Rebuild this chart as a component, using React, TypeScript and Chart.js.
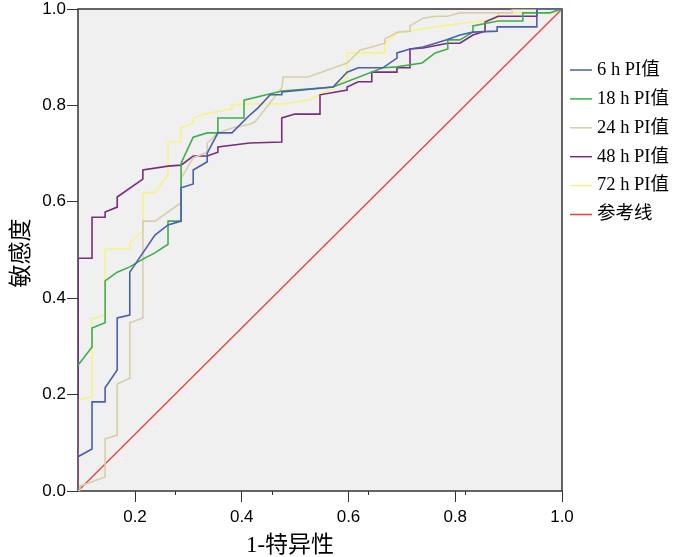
import { useEffect, useRef } from "react";
import { Chart, registerables } from "chart.js";

Chart.register(...registerables);

const seriesNames = ["6 h PI值", "18 h PI值", "24 h PI值", "48 h PI值", "72 h PI值", "参考线"];
const seriesColors = ["#4a5fae", "#3daf4c", "#d6cfa8", "#7a2c7e", "#f6f28a", "#e8403c"];
const xTickValues = [0.2, 0.4, 0.6, 0.8, 1.0];
const xMinorTickValues = [0.2, 0.4, 0.6, 0.8];
const yTickValues = [0, 0.2, 0.4, 0.6, 0.8, 1.0];

const pi6h: [number, number][] = [
  [0, 0.071], [0.029, 0.087], [0.029, 0.185], [0.056, 0.185], [0.056, 0.214], [0.081, 0.251],
  [0.081, 0.359], [0.107, 0.365], [0.107, 0.454], [0.134, 0.494], [0.159, 0.531], [0.186, 0.552],
  [0.213, 0.56], [0.213, 0.629], [0.238, 0.637], [0.238, 0.666], [0.267, 0.683], [0.267, 0.701],
  [0.289, 0.743], [0.318, 0.743], [0.355, 0.78], [0.372, 0.795], [0.397, 0.822], [0.421, 0.822],
  [0.421, 0.828], [0.527, 0.838], [0.556, 0.869], [0.579, 0.878], [0.63, 0.878], [0.659, 0.898],
  [0.659, 0.909], [0.686, 0.917], [0.713, 0.921], [0.762, 0.936], [0.789, 0.946], [0.816, 0.952],
  [0.866, 0.954], [0.866, 0.963], [0.948, 0.963], [0.948, 1], [1, 1],
];
const pi18h: [number, number][] = [
  [0, 0.261], [0.029, 0.299], [0.029, 0.338], [0.056, 0.349], [0.056, 0.436], [0.081, 0.454],
  [0.107, 0.465], [0.134, 0.481], [0.159, 0.494], [0.186, 0.512], [0.186, 0.56], [0.213, 0.56],
  [0.213, 0.68], [0.238, 0.734], [0.267, 0.743], [0.289, 0.743], [0.289, 0.774], [0.343, 0.774],
  [0.343, 0.811], [0.421, 0.83], [0.527, 0.838], [0.63, 0.878], [0.659, 0.88], [0.711, 0.888],
  [0.738, 0.909], [0.764, 0.917], [0.764, 0.936], [0.789, 0.936], [0.816, 0.952], [0.816, 0.965],
  [0.868, 0.975], [0.919, 0.975], [0.919, 0.992], [0.975, 0.992], [1, 1],
];
const pi24h: [number, number][] = [
  [0, 0], [0.004, 0.002], [0.004, 0.01], [0.029, 0.019], [0.056, 0.029], [0.056, 0.108],
  [0.081, 0.116], [0.081, 0.222], [0.107, 0.234], [0.107, 0.349], [0.134, 0.359], [0.134, 0.56],
  [0.159, 0.56], [0.213, 0.598], [0.213, 0.649], [0.238, 0.691], [0.267, 0.703], [0.267, 0.722],
  [0.289, 0.743], [0.318, 0.753], [0.355, 0.761], [0.366, 0.766], [0.421, 0.836], [0.424, 0.859],
  [0.475, 0.859], [0.556, 0.888], [0.583, 0.915], [0.607, 0.921], [0.634, 0.929], [0.634, 0.938],
  [0.661, 0.952], [0.686, 0.954], [0.686, 0.965], [0.713, 0.981], [0.738, 0.985], [0.764, 0.985],
  [0.789, 0.992], [0.897, 0.992], [0.897, 1], [1, 1],
];
const pi48h: [number, number][] = [
  [0, 0], [0, 0.483], [0.029, 0.483], [0.029, 0.568], [0.056, 0.568], [0.056, 0.579],
  [0.081, 0.589], [0.081, 0.61], [0.134, 0.647], [0.134, 0.666], [0.186, 0.674], [0.213, 0.676],
  [0.238, 0.695], [0.267, 0.695], [0.289, 0.703], [0.289, 0.714], [0.355, 0.722], [0.421, 0.724],
  [0.421, 0.774], [0.448, 0.782], [0.5, 0.782], [0.5, 0.822], [0.556, 0.832], [0.556, 0.838],
  [0.579, 0.849], [0.607, 0.849], [0.607, 0.869], [0.659, 0.869], [0.659, 0.878], [0.686, 0.878],
  [0.686, 0.917], [0.713, 0.919], [0.764, 0.929], [0.789, 0.929], [0.816, 0.946], [0.841, 0.954],
  [0.841, 0.973], [0.868, 0.985], [0.948, 0.985], [0.948, 1], [1, 1],
];
const pi72h: [number, number][] = [
  [0, 0], [0, 0.189], [0.029, 0.195], [0.029, 0.357], [0.056, 0.365], [0.056, 0.502],
  [0.107, 0.502], [0.107, 0.515], [0.134, 0.539], [0.134, 0.618], [0.159, 0.62], [0.186, 0.656],
  [0.186, 0.724], [0.213, 0.724], [0.213, 0.753], [0.238, 0.763], [0.238, 0.774], [0.262, 0.782],
  [0.318, 0.793], [0.318, 0.801], [0.355, 0.803], [0.421, 0.803], [0.475, 0.811], [0.5, 0.822],
  [0.527, 0.838], [0.556, 0.857], [0.556, 0.909], [0.634, 0.909], [0.634, 0.929], [0.659, 0.95],
  [0.738, 0.963], [0.816, 0.973], [0.868, 0.981], [0.868, 0.992], [0.975, 0.992], [1, 1],
];
const referenceLine: [number, number][] = [[0, 0], [1, 1]];

const allSeries = [pi6h, pi18h, pi24h, pi48h, pi72h, referenceLine];

const xTitle = "1-特异性";
const yTitle = "敏感度";

export default function App() {
  const canvasRef = useRef<HTMLCanvasElement | null>(null);

  useEffect(() => {
    const canvas = canvasRef.current;
    if (!canvas) return;

    const decor = {
      id: "decor",
      beforeDraw(chart: any) {
        const { ctx, chartArea } = chart;
        ctx.save();
        ctx.fillStyle = "#f0f0f0";
        ctx.fillRect(chartArea.left, chartArea.top, chartArea.right - chartArea.left, chartArea.bottom - chartArea.top);
        ctx.restore();
      },
      beforeDatasetsDraw(chart: any) {
        const { ctx, chartArea } = chart;
        ctx.save();
        ctx.strokeStyle = "#333";
        ctx.lineWidth = 1.5;
        ctx.strokeRect(chartArea.left, chartArea.top, chartArea.right - chartArea.left, chartArea.bottom - chartArea.top);
        const xd = chart.scales.xd;
        ctx.lineWidth = 1;
        ctx.beginPath();
        xMinorTickValues.forEach((v) => {
          const px = Math.round(xd.getPixelForValue(v)) + 0.5;
          ctx.moveTo(px, chartArea.bottom);
          ctx.lineTo(px, chartArea.bottom + 4);
        });
        ctx.stroke();
        ctx.restore();
      },
      afterDraw(chart: any) {
        const { ctx } = chart;
        ctx.save();
        // legend
        ctx.font = '18.5px "Liberation Serif", "Noto Sans CJK SC"';
        ctx.textBaseline = "middle";
        ctx.textAlign = "left";
        seriesNames.forEach((name, i) => {
          const y = 70 + i * 28.9;
          ctx.strokeStyle = seriesColors[i];
          ctx.lineWidth = 1.5;
          ctx.beginPath();
          ctx.moveTo(570, y);
          ctx.lineTo(592, y);
          ctx.stroke();
          ctx.fillStyle = "#000";
          ctx.fillText(name, 597, y);
        });
        // axis titles
        ctx.font = '23px "Liberation Serif", "Noto Sans CJK SC"';
        ctx.textAlign = "center";
        ctx.fillText(xTitle, 290, 546);
        ctx.translate(22, 253);
        ctx.rotate(-Math.PI / 2);
        ctx.fillText(yTitle, 0, 0);
        ctx.restore();
      },
    };

    const chart = new Chart(canvas, {
      type: "line",
      data: {
        datasets: allSeries.map((s, i) => ({
          label: seriesNames[i],
          data: s.map(([x, y]) => ({ x, y })),
          borderColor: seriesColors[i],
          backgroundColor: seriesColors[i],
          borderWidth: i === 5 ? 1.3 : 1.6,
          pointRadius: 0,
          tension: 0,
          fill: false,
          xAxisID: "xd",
          yAxisID: "y",
        })),
      },
      options: {
        animation: false,
        responsive: true,
        maintainAspectRatio: false,
        layout: { padding: { top: 9, right: 122, left: 0, bottom: 0 } },
        plugins: { legend: { display: false }, tooltip: { enabled: false } },
        scales: {
          xd: {
            type: "linear",
            min: 0,
            max: 1,
            display: false,
            position: "bottom",
          },
          x: {
            type: "linear",
            position: "bottom",
            min: 0.0932,
            max: 1.0,
            afterBuildTicks: (scale: any) => {
              scale.ticks = xTickValues.map((v) => ({ value: v }));
            },
            afterFit: (scale: any) => {
              scale.height = 66;
              scale.paddingLeft = 0;
              scale.paddingRight = 0;
            },
            border: { display: false },
            grid: { drawOnChartArea: false, drawTicks: true, tickLength: 11, color: "#333", lineWidth: 1 },
            ticks: {
              padding: 5,
              color: "#000",
              maxRotation: 0,
              font: { family: '"Liberation Sans", Arial, sans-serif', size: 17 },
              callback: (v: any) => Number(v).toFixed(1),
            },
          },
          y: {
            type: "linear",
            min: 0,
            max: 1,
            afterBuildTicks: (scale: any) => {
              scale.ticks = yTickValues.map((v) => ({ value: v }));
            },
            afterFit: (scale: any) => {
              scale.width = 78;
              scale.paddingTop = 0;
              scale.paddingBottom = 0;
            },
            border: { display: false },
            grid: { drawOnChartArea: false, drawTicks: true, tickLength: 11, color: "#333", lineWidth: 1 },
            ticks: {
              padding: 1,
              color: "#000",
              font: { family: '"Liberation Sans", Arial, sans-serif', size: 17 },
              callback: (v: any) => Number(v).toFixed(1),
            },
          },
        },
      },
      plugins: [decor],
    } as any);

    return () => chart.destroy();
  }, []);

  return (
    <div style={{ position: "fixed", left: 0, top: 0, width: 684, height: 557, background: "#fff" }}>
      <canvas ref={canvasRef} />
    </div>
  );
}
